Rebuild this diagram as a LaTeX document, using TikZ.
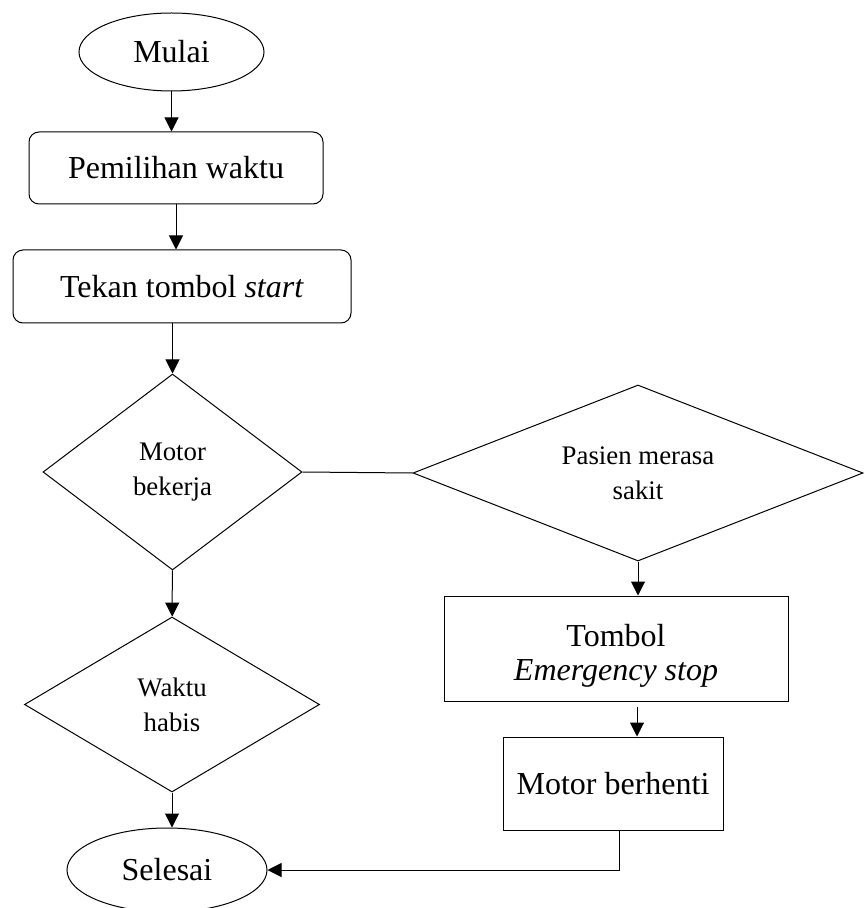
\documentclass[tikz,border=0pt]{standalone}
\usepackage{fontspec}
\setmainfont{Liberation Serif}
\usetikzlibrary{shapes.geometric,arrows.meta}

\tikzset{
  mulaiselesai/.style={draw,ellipse,inner sep=0pt,font=\fontsize{16}{17}\selectfont},
  proses/.style={draw,rectangle,inner sep=0pt,align=center,font=\fontsize{16}{17}\selectfont},
  prosesbulat/.style={proses,rounded corners=5pt},
  keputusan/.style={draw,diamond,aspect=1.5,inner sep=0pt,align=center,font=\fontsize{13.4}{17.5}\selectfont},
  panah/.style={-{Triangle[length=7pt,width=7pt]}},
}
\newcommand{\turun}[1]{\raisebox{-3.5pt}[\height][\depth]{#1}}

\begin{document}
\begin{tikzpicture}[x=0.5pt,y=-0.5pt,line width=0.5pt]
  \useasboundingbox (0,0) rectangle (864,908);
  \draw (171.5,52) node[mulaiselesai,minimum width=92.5pt,minimum height=39pt] (mulai) {Mulai};
  \draw (176,168) node[prosesbulat,minimum width=147pt,minimum height=36pt] (pilih) {Pemilihan waktu};
  \draw (182,286.5) node[prosesbulat,minimum width=169pt,minimum height=36.5pt] (tekan) {Tekan tombol \textit{start}};
  \draw (172.5,472) node[keputusan,minimum width=129.5pt,minimum height=98pt] (bekerja) {Motor\\bekerja};
  \draw (638,473) node[keputusan,minimum width=225pt,minimum height=88pt] (sakit) {Pasien merasa\\sakit};
  \draw (616,648.5) node[proses,minimum width=172pt,minimum height=52.5pt] (darurat) {\turun{Tombol}\\\turun{\textit{Emergency stop}}};
  \draw (613,783.5) node[proses,minimum width=110pt,minimum height=46.5pt] (berhenti) {Motor berhenti};
  \draw (172,704.5) node[keputusan,minimum width=147.5pt,minimum height=87.5pt] (habis) {Waktu\\habis};
  \draw (167,870) node[mulaiselesai,minimum width=100pt,minimum height=42pt] (selesai) {Selesai};

  \path[panah] (mulai) edge (mulai.south |- pilih.north);
  \path[panah] (pilih) edge (pilih.south |- tekan.north);
  \path[panah] (bekerja.north |- tekan.south) edge (bekerja);
  \path[panah] (bekerja) edge (habis);
  \path[panah] (habis) edge (habis.south |- selesai.north);
  \path[-] (bekerja.east) edge (sakit.west);
  \path[panah] (sakit) edge (sakit.south |- darurat.north);
  \coordinate (k1) at ([xshift=10.5pt,yshift=-2.5pt]darurat.south);
  \path[panah] (k1) edge (k1 |- berhenti.north);
  \coordinate (k2) at ([xshift=3pt]berhenti.south);
  \draw[panah] (k2) -- (k2 |- selesai.east) -- (selesai.east);
\end{tikzpicture}
\end{document}
